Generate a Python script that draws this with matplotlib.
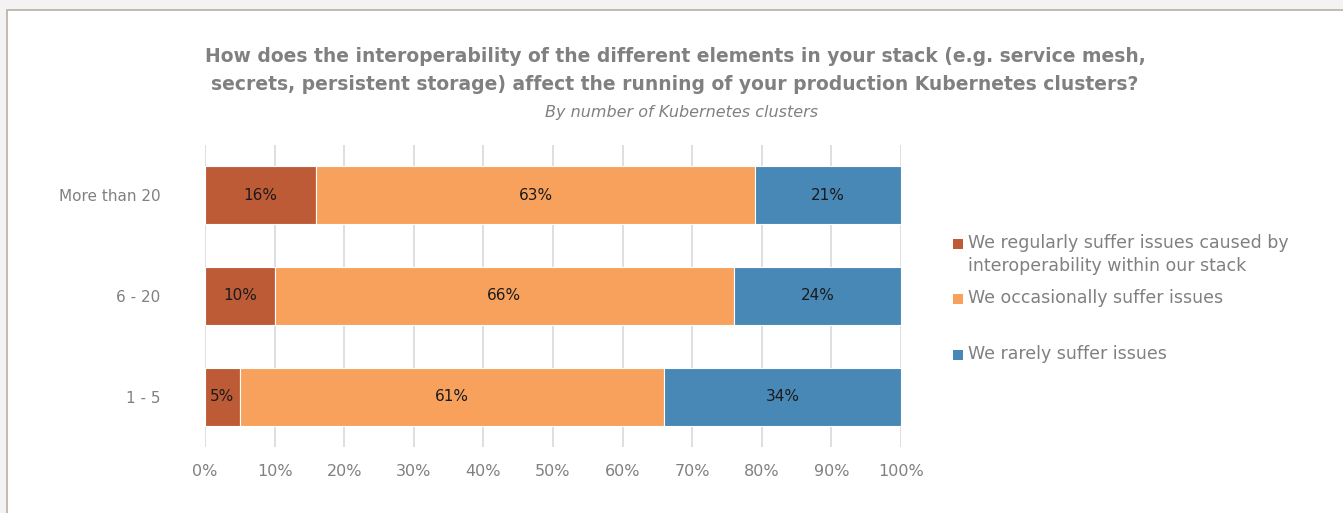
import matplotlib.pyplot as plt
from matplotlib.patches import Rectangle
import numpy as np

categories = ["1 - 5", "6 - 20", "More than 20"]
regular = [5, 10, 16]
occasional = [61, 66, 63]
rarely = [34, 24, 21]
series_names = [
    "We regularly suffer issues caused by\ninteroperability within our stack",
    "We occasionally suffer issues",
    "We rarely suffer issues",
]
series_colors = ["#BE5B37", "#F7A15C", "#4888B7"]
xticks = [0, 10, 20, 30, 40, 50, 60, 70, 80, 90, 100]

W, H = 1343, 513
fig = plt.figure(figsize=(W / 100, H / 100), dpi=100)
fig.patch.set_facecolor("#f3f3f3")

# white chart panel with a thin frame
panel = Rectangle((7 / W, -0.05), 1.2, (H - 10) / H + 0.05, transform=fig.transFigure,
                  facecolor="white", edgecolor="#b8b0a2", linewidth=1.2, zorder=-10)
fig.patches.append(panel)

font = "DejaVu Sans"
gray = "#808080"

ax = fig.add_axes([205 / W, 66 / H, 696 / W, 302 / H])
ax.set_zorder(2)
ax.set_facecolor("none")

y = np.arange(len(categories))
left = np.zeros(len(categories))
for vals, color in zip([regular, occasional, rarely], series_colors):
    bars = ax.barh(y, vals, left=left, height=0.575, color=color,
                   edgecolor="white", linewidth=0.8, zorder=3)
    for b, v in zip(bars, vals):
        ax.text(b.get_x() + b.get_width() / 2, b.get_y() + b.get_height() / 2,
                f"{v}%", ha="center", va="center", fontsize=11,
                color="#1a1a1a", family=font, zorder=4)
    left += np.array(vals)

ax.set_xlim(0, 100)
ax.set_ylim(-0.5, 2.5)
ax.set_xticks(xticks)
ax.set_xticklabels([f"{t}%" for t in xticks], fontsize=11.5, color=gray, family=font)
ax.set_yticks(y)
ax.set_yticklabels(categories, fontsize=11, color=gray, family=font)
ax.tick_params(axis="both", length=0)
ax.tick_params(axis="x", pad=12)
ax.tick_params(axis="y", pad=32)
ax.grid(axis="x", color="#d9d9d9", linewidth=1.2, zorder=0)
for s in ax.spines.values():
    s.set_visible(False)

fig.text(675 / W, 1 - 57 / H,
         "How does the interoperability of the different elements in your stack (e.g. service mesh,",
         ha="center", va="center", fontsize=13.5, fontweight="bold", color=gray, family=font)
fig.text(675 / W, 1 - 85 / H,
         "secrets, persistent storage) affect the running of your production Kubernetes clusters?",
         ha="center", va="center", fontsize=13.5, fontweight="bold", color=gray, family=font)
fig.text(682 / W, 1 - 112 / H, "By number of Kubernetes clusters", ha="center", va="center",
         fontsize=11.5, style="italic", color=gray, family=font)

# legend entries
legend_y = [244, 299, 355]
for name, color, ly in zip(series_names, series_colors, legend_y):
    fig.patches.append(Rectangle((953 / W, 1 - (ly + 5) / H), 10 / W, 10 / H,
                                 transform=fig.transFigure, facecolor=color,
                                 edgecolor="none", zorder=3))
    fig.text(968 / W, 1 - (ly - 10) / H, name, ha="left", va="top", fontsize=12.5,
             color=gray, family=font, linespacing=1.35)

fig.savefig("out.png", dpi=100, facecolor=fig.get_facecolor())
